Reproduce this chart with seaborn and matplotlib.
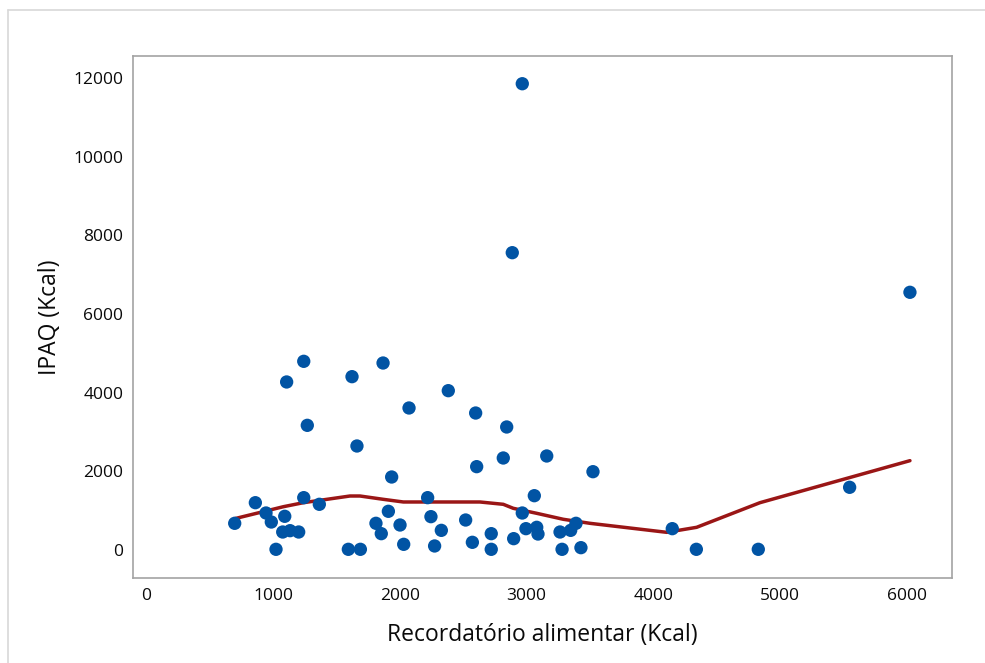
import numpy as np
import pandas as pd
import matplotlib
matplotlib.use("Agg")
import matplotlib.pyplot as plt
from matplotlib.lines import Line2D
import seaborn as sns

# Recordatório alimentar (Kcal) vs IPAQ (Kcal)
recordatorio = [696, 859, 943, 985, 1022, 1091, 1075, 1133, 1201, 1106,
                1241, 1269, 1241, 1364, 1593, 1622, 1688, 1661, 1867, 1811,
                1853, 1909, 1935, 2001, 2030, 2072, 2219, 2245, 2274, 2327,
                2382, 2519, 2572, 2598, 2606, 2843, 2816, 3159, 3524, 3061,
                2966, 2721, 2721, 2898, 2995, 3080, 3090, 3264, 3348, 3390,
                3280, 3429, 4150, 4340, 4829, 2966, 2887, 6026, 5550]
ipaq = [678, 1202, 940, 711, 17, 856, 457, 491, 457, 4270,
        4795, 3168, 1330, 1161, 17, 4405, 17, 2643, 4752, 678,
        415, 983, 1855, 635, 144, 3609, 1330, 847, 102, 499,
        4049, 762, 195, 3481, 2118, 3126, 2338, 2389, 1990, 1380,
        940, 415, 17, 288, 542, 576, 406, 457, 499, 678,
        17, 59, 542, 17, 17, 11850, 7556, 6549, 1593]

# smoother (lowess) line
suav_x = [696, 1080, 1238, 1606, 1685, 1868, 2027, 2632, 2816, 2895,
          3080, 3290, 3500, 4106, 4342, 4842, 6026]
suav_y = [796, 1100, 1202, 1372, 1372, 1288, 1220, 1220, 1161, 1059,
          932, 780, 678, 449, 576, 1202, 2270]

x_ticks = [0, 1000, 2000, 3000, 4000, 5000, 6000]
y_ticks = [0, 2000, 4000, 6000, 8000, 10000, 12000]

df = pd.DataFrame({"Recordatorio": recordatorio, "IPAQ": ipaq})
df_line = pd.DataFrame({"x": suav_x, "y": suav_y})

sns.set_style("white")
plt.rcParams["font.family"] = ["Open Sans", "DejaVu Sans"]

fig = plt.figure(figsize=(9.85, 6.63), dpi=100)
ax = fig.add_axes([0.135, 0.1282, 0.8315, 0.7873])

sns.lineplot(data=df_line, x="x", y="y", ax=ax, color="#9a1616", linewidth=2.5,
             sort=False, zorder=2)
sns.scatterplot(data=df, x="Recordatorio", y="IPAQ", ax=ax, color="#0154a4",
                s=92, edgecolor="none", zorder=3)

ax.set_xlim(-107, 6358)
ax.set_ylim(-712, 12554)
ax.set_xticks(x_ticks)
ax.set_yticks(y_ticks)
ax.set_xticklabels([str(v) for v in x_ticks])
ax.set_yticklabels([str(v) for v in y_ticks])
ax.tick_params(axis="both", direction="out", length=4, width=1.1,
               color="#a0a0a0", labelsize=12.5, labelcolor="#0a0a0a", pad=3)
for sp in ax.spines.values():
    sp.set_color("#a3a3a3")
    sp.set_linewidth(1.2)

ax.set_xlabel("Recordatório alimentar (Kcal)", fontsize=16.5, color="#0a0a0a", labelpad=14)
ax.set_ylabel("IPAQ (Kcal)", fontsize=16.5, color="#0a0a0a", labelpad=8)

# light outer frame (top and left only visible in reference)
fig.add_artist(Line2D([8 / 985, 1.0], [1 - 10 / 663, 1 - 10 / 663],
                      transform=fig.transFigure, color="#d8d8d8", linewidth=1.2))
fig.add_artist(Line2D([8 / 985, 8 / 985], [0.0, 1 - 10 / 663],
                      transform=fig.transFigure, color="#d8d8d8", linewidth=1.2))

fig.savefig("out.png", dpi=100)
